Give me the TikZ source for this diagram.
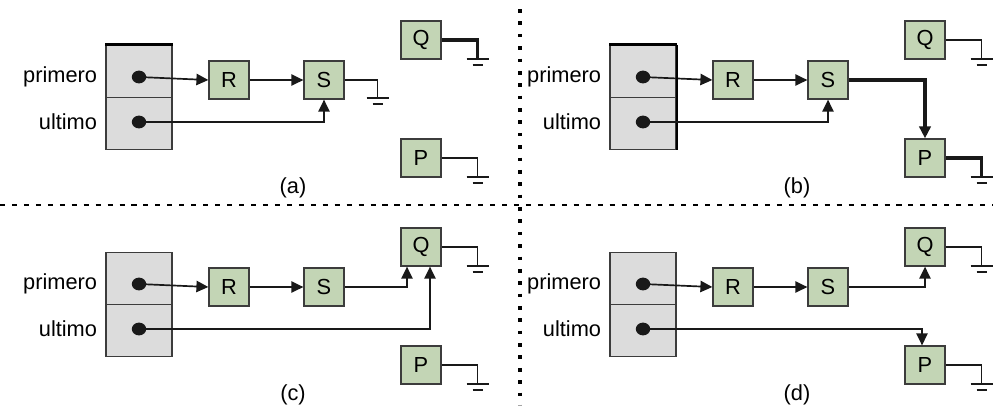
\documentclass[tikz,border=0pt]{standalone}
\usepackage{fontspec}
\setmainfont{Liberation Sans}
\usepackage{tikz}
\usetikzlibrary{positioning, shapes.geometric, arrows.meta, calc}
\definecolor{nodeGreen}{HTML}{C3D5B5}
\definecolor{headGray}{HTML}{DCDCDC}
\definecolor{edgeGray}{HTML}{3C3C3C}

\begin{document}
\begin{tikzpicture}[x=0.025cm, y=-0.025cm,
  font=\fontsize{15.5}{18}\selectfont,
  elem/.style={draw=edgeGray, line width=0.9pt, fill=nodeGreen,
    minimum width=1cm, minimum height=0.95cm, inner sep=0pt},
  cell/.style={draw=edgeGray, line width=1pt, fill=headGray,
    minimum width=1.65cm, minimum height=1.3cm, inner sep=0pt},
  dot/.style={ellipse, fill=black!90, inner sep=0pt,
    minimum width=0.36cm, minimum height=0.32cm},
  ptr/.style={-{Triangle[length=8.5pt, width=8pt]}, line width=1.2pt, black!90},
  wire/.style={line width=1.2pt, black!90},
  heavy/.style={line width=2.2pt},
  gnd/.pic={\draw[line width=1.7pt, black!90] (-11,0) -- (11,0);
    \draw[line width=1.3pt, black!90] (-5,6) -- (5,6);}]

\useasboundingbox (0,0) rectangle (993,410);

% separators
\draw[line width=2.6pt, dash pattern=on 2.6pt off 6.2pt] (520,9) -- (520,405);
\draw[line width=1.8pt, dash pattern=on 3.6pt off 4.9pt] (0,205) -- (993,205);

% common part of the four panels
\foreach \p/\dx/\dy in {a/0/0, b/504/0, c/0/207, d/504/207} {
\begin{scope}[shift={(\dx,\dy)}]
  \node[cell] (hp\p) at (139,71.5) {};
  \node[cell] (hu\p) at (139,123.5) {};
  \node[anchor=east] (np\p) at (102,77) {primero};
  \node[anchor=east] (nu\p) at (102,122) {ultimo};
  \node[dot] (dp\p) at (139,77) {};
  \node[dot] (du\p) at (139,122) {};
  \node[elem] (r\p) at (229,80) {R};
  \node[elem] (s\p) at (324,80) {S};
  \node[elem] (q\p) at (421,40) {Q};
  \node[elem] (p\p) at (421,158) {P};
  \node (cap\p) at (293,188) {(\p)};
  \draw[ptr] (dp\p.center) -- (r\p.west);
  \draw[ptr] (r\p) -- (s\p);
\end{scope}
}

% (a)
\draw[heavy] (hpa.north west) -- (hpa.north east);
\draw[ptr] (dua.center) -| (sa.south);
\draw[wire] (sa.east) -| ++(33,18) pic{gnd};
\draw[wire, heavy] (qa.east) -| ++(36,19) pic{gnd};
\draw[wire] (pa.east) -| ++(36,19) pic{gnd};

% (b)
\draw[heavy] (hpb.north west) -- (hpb.north east);
\draw[line width=1.6pt] (hpb.north east) -- (hub.south east);
\draw[ptr] (dub.center) -| (sb.south);
\draw[ptr, heavy] (sb.east) -| (pb.north);
\draw[wire] (qb.east) -| ++(36,19) pic{gnd};
\draw[wire, heavy] (pb.east) -| ++(36,19) pic{gnd};

% (c)
\draw[ptr] (sc.east) -| ($(qc.south)+(-14,0)$);
\draw[ptr] (duc.center) -| ($(qc.south)+(9,0)$);
\draw[wire] (qc.east) -| ++(36,19) pic{gnd};
\draw[wire] (pc.east) -| ++(36,19) pic{gnd};

% (d)
\draw[ptr] (sd.east) -| (qd.south);
\draw[ptr] (dud.center) -| ($(pd.north)+(-3,0)$);
\draw[wire] (qd.east) -| ++(36,19) pic{gnd};
\draw[wire] (pd.east) -| ++(36,19) pic{gnd};

\end{tikzpicture}
\end{document}
